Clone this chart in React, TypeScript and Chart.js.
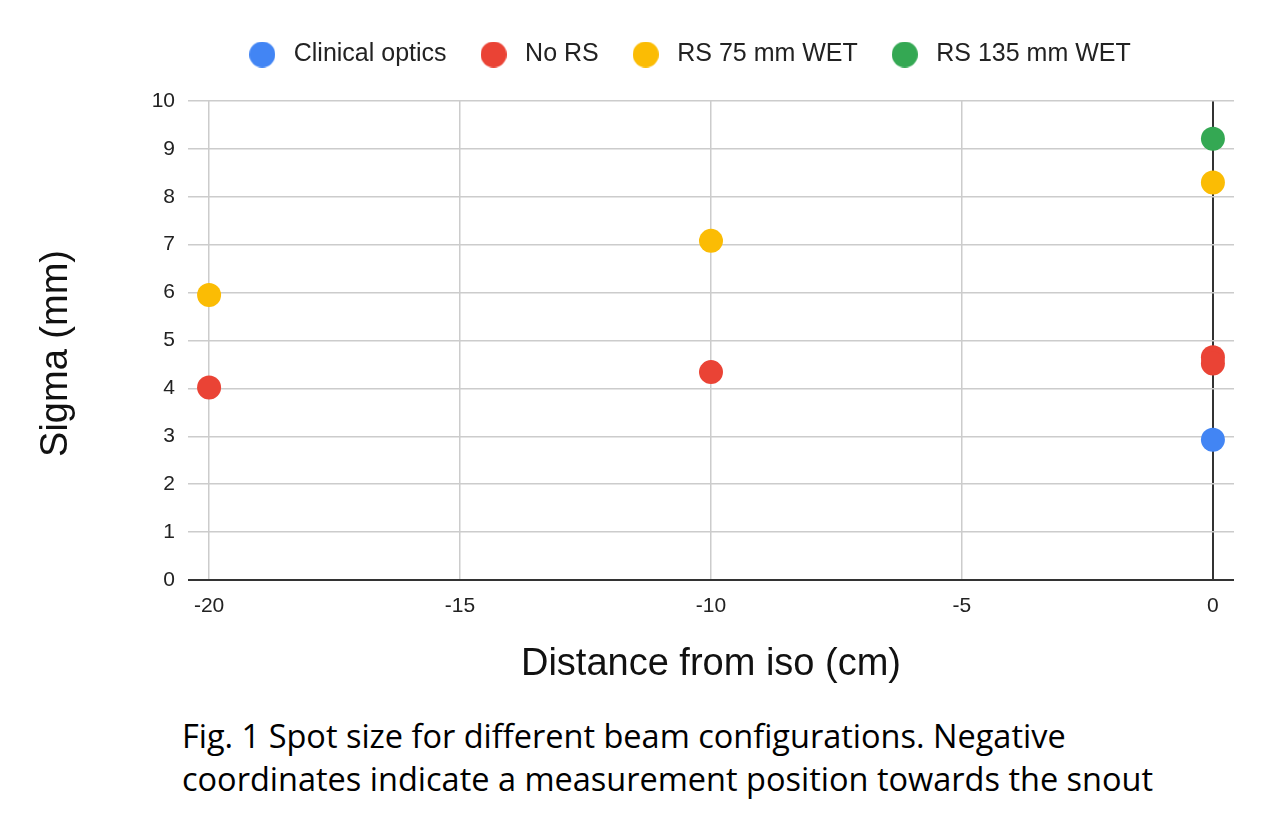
import { useEffect, useRef } from "react";
import { Chart, registerables } from "chart.js";

Chart.register(...registerables);

const seriesNames = ["Clinical optics", "No RS", "RS 75 mm WET", "RS 135 mm WET"];
const seriesColors = ["#4285F4", "#EA4335", "#FBBC04", "#34A853"];

const clinicalX = [0];
const clinicalY = [2.93];
const noRsX = [-20, -10, 0, 0];
const noRsY = [4.02, 4.34, 4.65, 4.52];
const rs75X = [-20, -10, 0];
const rs75Y = [5.95, 7.08, 8.3];
const rs135X = [0];
const rs135Y = [9.21];

const xTicks = [-20, -15, -10, -5, 0];
const yTicks = [0, 1, 2, 3, 4, 5, 6, 7, 8, 9, 10];

const xTitle = "Distance from iso (cm)";
const yTitle = "Sigma (mm)";
const caption = [
  "Fig. 1 Spot size for different beam configurations. Negative",
  "coordinates indicate a measurement position towards the snout",
];

const FONT = "Arial, 'Liberation Sans'";

function pairs(xs: number[], ys: number[]) {
  return xs.map((x, i) => ({ x, y: ys[i] }));
}

// small round swatch for the legend, so the gap to the text can be set
function makeDot(color: string) {
  const c = document.createElement("canvas");
  c.width = 26;
  c.height = 26;
  const g = c.getContext("2d");
  if (g) {
    g.fillStyle = color;
    g.beginPath();
    g.arc(13, 13, 13, 0, Math.PI * 2);
    g.fill();
  }
  return c;
}

// extra room under the legend and a small sideways shift
const legendTweak = {
  id: "legendTweak",
  beforeInit(chart: any) {
    const fit = chart.legend.fit;
    chart.legend.fit = function () {
      fit.call(this);
      this.height += 24;
    };
  },
  afterLayout(chart: any) {
    chart.legend.left += 70;
    chart.legend.right += 70;
  },
};

// y axis title, sitting a little below the middle of the plot like the original
const yTitlePlugin = {
  id: "yTitlePlugin",
  afterDraw(chart: any) {
    const { ctx, chartArea } = chart;
    ctx.save();
    ctx.translate(57, (chartArea.top + chartArea.bottom) / 2 + 13);
    ctx.rotate(-Math.PI / 2);
    ctx.font = `38px ${FONT}`;
    ctx.fillStyle = "#111";
    ctx.textAlign = "center";
    ctx.textBaseline = "middle";
    ctx.fillText(yTitle, 0, 0);
    ctx.restore();
  },
};

export default function App() {
  const chartRef = useRef<HTMLCanvasElement>(null);
  const chartInstance = useRef<Chart | null>(null);

  useEffect(() => {
    if (!chartRef.current) return;
    if (chartInstance.current) chartInstance.current.destroy();
    const ctx = chartRef.current.getContext("2d");
    if (!ctx) return;

    const dots = seriesColors.map(makeDot);
    const allData = [
      pairs(clinicalX, clinicalY),
      pairs(noRsX, noRsY),
      pairs(rs75X, rs75Y),
      pairs(rs135X, rs135Y),
    ];

    chartInstance.current = new Chart(ctx, {
      type: "scatter",
      data: {
        datasets: seriesNames.map((name, i) => ({
          label: name,
          data: allData[i],
          backgroundColor: seriesColors[i],
          borderColor: seriesColors[i],
          borderWidth: 0,
          pointRadius: 12,
          pointHoverRadius: 12,
        })),
      },
      plugins: [legendTweak, yTitlePlugin],
      options: {
        responsive: false,
        animation: false,
        layout: { padding: { top: 14, right: 38, bottom: 10, left: 0 } },
        plugins: {
          tooltip: { enabled: false },
          legend: {
            position: "top",
            labels: {
              usePointStyle: true,
              pointStyleWidth: 38,
              boxHeight: 18,
              padding: 28,
              color: "#222",
              font: { family: FONT, size: 25 },
              generateLabels: (chart: Chart) =>
                Chart.defaults.plugins.legend.labels
                  .generateLabels(chart)
                  .map((item: any, i: number) => ({ ...item, pointStyle: dots[i] })),
            },
          },
        },
        scales: {
          x: {
            type: "linear",
            min: -20.42,
            max: 0.42,
            afterBuildTicks: (scale: any) => {
              scale.ticks = xTicks.map((v) => ({ value: v }));
            },
            afterFit: (scale: any) => {
              scale.height = 120;
            },
            border: { display: false },
            grid: {
              drawTicks: false,
              lineWidth: (c: any) => (c.tick && c.tick.value === 0 ? 2 : 1.5),
              color: (c: any) => (c.tick && c.tick.value === 0 ? "#333" : "#ccc"),
            },
            ticks: {
              padding: 14,
              color: "#222",
              font: { family: FONT, size: 21 },
            },
            title: {
              display: true,
              text: xTitle,
              color: "#111",
              padding: { top: 0, bottom: 16 },
              font: { family: FONT, size: 38, lineHeight: 1 },
            },
          },
          y: {
            type: "linear",
            min: 0,
            max: 10,
            afterBuildTicks: (scale: any) => {
              scale.ticks = yTicks.map((v) => ({ value: v }));
            },
            afterFit: (scale: any) => {
              scale.width = 188;
            },
            border: { display: false },
            grid: {
              drawTicks: false,
              lineWidth: (c: any) => (c.tick && c.tick.value === 0 ? 2 : 1.5),
              color: (c: any) => (c.tick && c.tick.value === 0 ? "#333" : "#ccc"),
            },
            ticks: {
              padding: 13,
              color: "#222",
              font: { family: FONT, size: 21 },
            },
            title: { display: false },
          },
        },
      },
    });

    return () => {
      if (chartInstance.current) {
        chartInstance.current.destroy();
        chartInstance.current = null;
      }
    };
  }, []);

  return (
    <div style={{ position: "relative", width: 1272, height: 826, margin: -8, background: "#fff" }}>
      <canvas ref={chartRef} width={1272} height={710} style={{ position: "absolute", left: 0, top: 0 }} />
      <div
        style={{
          position: "absolute",
          left: 182,
          top: 714,
          fontFamily: "'Open Sans', 'Noto Sans', sans-serif",
          fontSize: 32.5,
          lineHeight: "43px",
          color: "#000",
          whiteSpace: "nowrap",
        }}
      >
        {caption.map((line) => (
          <div key={line}>{line}</div>
        ))}
      </div>
    </div>
  );
}
